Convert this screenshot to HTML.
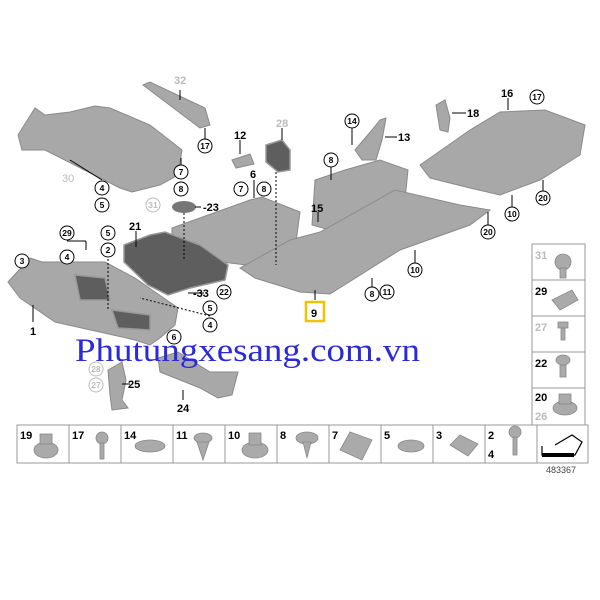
<!DOCTYPE html>
<html><head><meta charset="utf-8"><style>
html,body{margin:0;padding:0;background:#fff}
svg{display:block}
text{font-family:"Liberation Sans",sans-serif;font-weight:bold}
.l{font-size:11px;fill:#000}
.g{fill:#bbb}
.c{font-size:8.5px;text-anchor:middle}
.p{fill:#a8a8a8;stroke:#8a8a8a;stroke-width:1}
.d{fill:#5e5e5e;stroke:#999;stroke-width:1.5}
.ln{stroke:#000;stroke-width:1;fill:none}
</style></head><body>
<svg width="600" height="600" viewBox="0 0 600 600" xmlns="http://www.w3.org/2000/svg">
<polygon class="p" points="18,135 35,108 45,115 70,112 95,106 110,108 150,125 182,150 178,175 160,185 132,192 120,188 45,150 22,150"/>
<polygon class="p" points="143,85 150,82 205,108 210,125 200,128"/>
<polygon class="p" points="232,160 250,154 254,164 236,168"/>
<polygon class="d" points="266,145 282,140 290,150 290,170 278,172 266,162"/>
<polygon class="p" points="172,228 250,200 262,197 300,212 296,242 246,265 190,258 172,240"/>
<polygon class="d" points="124,245 150,235 165,232 200,245 228,265 225,280 190,288 168,295 148,285 124,262"/>
<ellipse cx="184" cy="207" rx="12" ry="6" fill="#777"/>
<polygon class="p" points="8,282 30,258 42,262 60,262 105,262 135,278 178,308 175,325 160,338 150,345 135,340 55,322 20,298"/>
<polygon class="d" points="75,275 105,278 110,300 80,300"/>
<polygon class="d" points="112,310 150,315 150,330 118,328"/>
<polygon class="p" points="158,358 178,352 210,372 238,372 232,395 218,398 200,388 160,372"/>
<polygon class="p" points="108,370 122,362 126,380 122,400 128,408 112,410 110,395"/>
<polygon class="p" points="315,180 345,170 380,160 408,170 405,200 395,212 330,230 312,225"/>
<polygon class="p" points="355,150 372,130 380,120 386,118 382,140 376,160 362,160"/>
<polygon class="p" points="240,268 290,240 320,232 395,190 460,205 490,210 470,225 400,250 330,294 300,292 255,278"/>
<polygon class="p" points="420,165 470,130 500,112 545,110 585,125 580,155 540,180 500,195 470,188 430,178"/>
<polygon class="p" points="436,105 445,100 450,118 448,132 440,130"/>
<g class="ln">
<line x1="180" y1="90" x2="180" y2="100"/><line x1="205" y1="128" x2="205" y2="139"/>
<line x1="240" y1="140" x2="240" y2="154"/><line x1="282" y1="128" x2="282" y2="140"/>
<line x1="276" y1="172" x2="276" y2="265" stroke-dasharray="2,2"/>
<line x1="102" y1="180" x2="70" y2="160"/><line x1="181" y1="165" x2="181" y2="158"/>
<line x1="201" y1="207" x2="195" y2="207"/><line x1="184" y1="213" x2="184" y2="260" stroke-dasharray="2,2"/>
<line x1="136" y1="231" x2="136" y2="247"/><line x1="204" y1="293" x2="188" y2="293"/>
<line x1="33" y1="322" x2="33" y2="305"/><line x1="108" y1="259" x2="108" y2="310" stroke-dasharray="2,2"/>
<line x1="67" y1="241" x2="86" y2="241"/><line x1="86" y1="241" x2="86" y2="250"/>
<line x1="130" y1="384" x2="122" y2="384"/><line x1="183" y1="400" x2="183" y2="390"/>
<line x1="210" y1="316" x2="140" y2="298" stroke-dasharray="2,2"/>
<line x1="352" y1="128" x2="352" y2="145"/><line x1="397" y1="137" x2="385" y2="137"/>
<line x1="466" y1="113" x2="452" y2="113"/><line x1="508" y1="98" x2="508" y2="110"/>
<line x1="331" y1="167" x2="331" y2="180"/><line x1="318" y1="212" x2="318" y2="222"/>
<line x1="543" y1="191" x2="543" y2="180"/><line x1="512" y1="207" x2="512" y2="195"/>
<line x1="488" y1="225" x2="488" y2="212"/><line x1="415" y1="263" x2="415" y2="250"/>
<line x1="372" y1="287" x2="372" y2="278"/><line x1="315" y1="300" x2="315" y2="290"/>
<line x1="254" y1="180" x2="254" y2="198"/>
</g>
<text class="l g" x="174" y="84">32</text>
<text class="l" x="234" y="139">12</text>
<text class="l g" x="276" y="127">28</text>
<text class="l" x="398" y="141">13</text>
<text class="l" x="467" y="117">18</text>
<text class="l" x="501" y="97">16</text>
<text class="l" x="250" y="178">6</text>
<text class="l" x="129" y="230">21</text>
<text class="l" x="203" y="211">-23</text>
<text class="l" x="311" y="212">15</text>
<text class="l" x="193" y="297">-33</text>
<text class="l" x="30" y="335">1</text>
<text class="l" x="128" y="388">25</text>
<text class="l" x="177" y="412">24</text>
<text class="l g" x="62" y="182" style="font-weight:normal">30</text>
<rect x="306" y="302" width="18" height="19" fill="none" stroke="#f2c200" stroke-width="2.5"/>
<text class="l" x="311" y="317">9</text>
<g fill="#fff" stroke="#000" stroke-width="1">
<circle cx="205" cy="146" r="7"/><circle cx="181" cy="172" r="7"/><circle cx="181" cy="189" r="7"/>
<circle cx="102" cy="188" r="7"/><circle cx="102" cy="205" r="7"/><circle cx="153" cy="205" r="7" stroke="#bbb"/>
<circle cx="331" cy="160" r="7"/><circle cx="352" cy="121" r="7"/><circle cx="537" cy="97" r="7"/>
<circle cx="241" cy="189" r="7"/><circle cx="264" cy="189" r="7"/>
<circle cx="67" cy="233" r="7"/><circle cx="67" cy="257" r="7"/><circle cx="108" cy="233" r="7"/><circle cx="108" cy="250" r="7"/>
<circle cx="22" cy="261" r="7"/><circle cx="224" cy="292" r="7"/><circle cx="210" cy="308" r="7"/><circle cx="210" cy="325" r="7"/>
<circle cx="174" cy="337" r="7"/><circle cx="96" cy="369" r="7" stroke="#bbb"/><circle cx="96" cy="385" r="7" stroke="#bbb"/>
<circle cx="543" cy="198" r="7"/><circle cx="512" cy="214" r="7"/><circle cx="488" cy="232" r="7"/>
<circle cx="415" cy="270" r="7"/><circle cx="372" cy="294" r="7"/><circle cx="387" cy="292" r="7"/>
</g>
<g class="c">
<text x="205" y="149">17</text><text x="181" y="175">7</text><text x="181" y="192">8</text>
<text x="102" y="191">4</text><text x="102" y="208">5</text><text x="153" y="208" class="g">31</text>
<text x="331" y="163">8</text><text x="352" y="124">14</text><text x="537" y="100">17</text>
<text x="241" y="192">7</text><text x="264" y="192">8</text>
<text x="67" y="236">29</text><text x="67" y="260">4</text><text x="108" y="236">5</text><text x="108" y="253">2</text>
<text x="22" y="264">3</text><text x="224" y="295">22</text><text x="210" y="311">5</text><text x="210" y="328">4</text>
<text x="174" y="340">6</text><text x="96" y="372" class="g">28</text><text x="96" y="388" class="g">27</text>
<text x="543" y="201">20</text><text x="512" y="217">10</text><text x="488" y="235">20</text>
<text x="415" y="273">10</text><text x="372" y="297">8</text><text x="387" y="295">11</text>
</g>
<text x="75" y="361" textLength="345" lengthAdjust="spacingAndGlyphs" style="font-family:'Liberation Serif',serif;font-weight:normal;font-size:33px;fill:#2a2ad8">Phutungxesang.com.vn</text>
<g fill="none" stroke="#999" stroke-width="1">
<rect x="532" y="244" width="53" height="181"/>
<line x1="532" y1="280" x2="585" y2="280"/><line x1="532" y1="316" x2="585" y2="316"/>
<line x1="532" y1="352" x2="585" y2="352"/><line x1="532" y1="388" x2="585" y2="388"/>
<rect x="17" y="425" width="571" height="38"/>
<line x1="69" y1="425" x2="69" y2="463"/><line x1="121" y1="425" x2="121" y2="463"/>
<line x1="173" y1="425" x2="173" y2="463"/><line x1="225" y1="425" x2="225" y2="463"/>
<line x1="277" y1="425" x2="277" y2="463"/><line x1="329" y1="425" x2="329" y2="463"/>
<line x1="381" y1="425" x2="381" y2="463"/><line x1="433" y1="425" x2="433" y2="463"/>
<line x1="485" y1="425" x2="485" y2="463"/><line x1="537" y1="425" x2="537" y2="463"/>
</g>
<g class="l">
<text x="535" y="259" class="g">31</text><text x="535" y="295">29</text><text x="535" y="331" class="g">27</text>
<text x="535" y="367">22</text><text x="535" y="401">20</text><text x="535" y="420" class="g">26</text>
<text x="20" y="439">19</text><text x="72" y="439">17</text><text x="124" y="439">14</text><text x="176" y="439">11</text>
<text x="228" y="439">10</text><text x="280" y="439">8</text><text x="332" y="439">7</text><text x="384" y="439">5</text>
<text x="436" y="439">3</text><text x="488" y="439">2</text><text x="488" y="458">4</text>
</g>
<g fill="#aaa" stroke="#888" stroke-width="0.8">
<circle cx="563" cy="262" r="8"/><rect x="560" y="268" width="6" height="10"/>
<polygon points="552,300 572,290 578,300 560,310"/>
<rect x="558" y="322" width="10" height="6"/><rect x="561" y="328" width="4" height="12"/>
<ellipse cx="563" cy="360" rx="7" ry="5"/><rect x="560" y="365" width="6" height="12"/>
<ellipse cx="565" cy="408" rx="12" ry="7"/><rect x="559" y="394" width="12" height="10"/>
<ellipse cx="46" cy="450" rx="12" ry="8"/><rect x="40" y="434" width="12" height="10"/>
<circle cx="102" cy="438" r="6"/><rect x="100" y="443" width="4" height="16"/>
<ellipse cx="150" cy="446" rx="15" ry="6"/>
<ellipse cx="203" cy="438" rx="9" ry="5"/><polygon points="197,442 209,442 203,460"/>
<ellipse cx="255" cy="450" rx="13" ry="8"/><rect x="249" y="433" width="12" height="12"/>
<ellipse cx="307" cy="438" rx="11" ry="6"/><polygon points="303,442 311,442 307,458"/>
<polygon points="340,450 350,432 372,440 362,460"/>
<ellipse cx="411" cy="446" rx="13" ry="6"/>
<polygon points="450,445 460,435 478,444 468,456"/>
<circle cx="515" cy="432" r="6"/><rect x="513" y="437" width="4" height="18"/>
</g>
<g stroke="#000" stroke-width="1.2" fill="none">
<polyline points="542,446 542,455 575,455 582,442 572,435 555,445"/>
</g>
<rect x="542" y="453" width="32" height="4" fill="#000"/>
<text x="546" y="473" style="font-weight:normal;font-size:9px;fill:#444">483367</text>
</svg>
</body></html>
